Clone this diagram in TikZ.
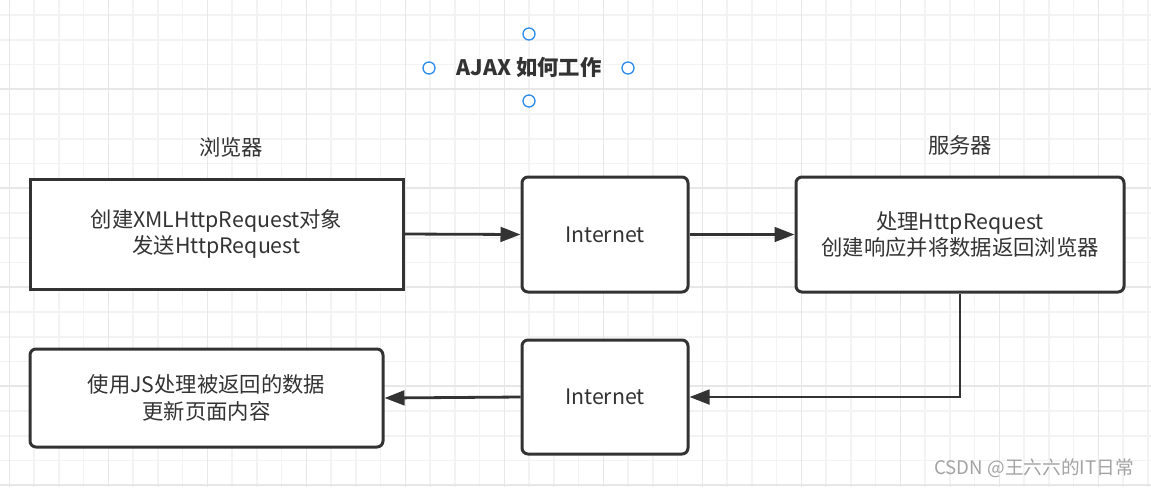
\documentclass[tikz,border=0pt]{standalone}
\usepackage{fontspec}
\setmainfont{Noto Sans CJK SC}
\usepackage{xcolor}
\usetikzlibrary{arrows.meta}

\definecolor{ink}{HTML}{333333}
\definecolor{gridminor}{HTML}{F3F3F3}
\definecolor{gridmajor}{HTML}{E7E7E7}
\definecolor{handleblue}{HTML}{2B8CEB}
\definecolor{wmark}{HTML}{A3A3A3}

\tikzset{
    box/.style={draw=ink, line width=2.25pt, fill=white, text=ink, align=center,
        font=\fontsize{16}{20}\selectfont, inner sep=0pt},
    rbox/.style={box, rounded corners=4.5pt},
    flow/.style={draw=ink, line width=2.1pt, -{Triangle[length=15pt,width=11pt]}},
    caption/.style={text=ink, font=\fontsize{16}{20}\selectfont},
    handle/.style={circle, draw=handleblue, line width=1pt, fill=white,
        minimum size=9pt, inner sep=0pt}
}

\begin{document}
\begin{tikzpicture}[x=0.75pt,y=-0.75pt]
    \useasboundingbox (0,0) rectangle (1151,487);
    \fill[white] (0,0) rectangle (1151,487);

    % Grid
    \foreach \gx in {9.3,34.05,...,1151} \draw[gridminor, line width=1.2pt] (\gx,0) -- (\gx,487);
    \foreach \gy in {15,39.75,...,487} \draw[gridminor, line width=1.2pt] (0,\gy) -- (1151,\gy);
    \foreach \gx in {9.3,108.3,...,1151} \draw[gridmajor, line width=1.2pt] (\gx,0) -- (\gx,487);
    \foreach \gy in {89.25,188.25,...,487} \draw[gridmajor, line width=1.2pt] (0,\gy) -- (1151,\gy);

    % Title
    \node[text=ink, font=\bfseries\fontsize{16}{20}\selectfont] (title) at (529,67) {AJAX 如何工作};
    \node[handle] (hn) at (529,34) {};
    \node[handle] (hw) at (429,68) {};
    \node[handle] (he) at (628,68) {};
    \node[handle] (hs) at (529,101) {};

    % Nodes
    \node[caption] (browser) at (231,147) {浏览器};
    \node[caption] (servername) at (960,145) {服务器};
    \node[box, minimum width=279.75pt, minimum height=82.5pt] (xhr) at (216.5,234)
        {创建XMLHttpRequest对象\\发送HttpRequest};
    \node[rbox, minimum width=124.5pt, minimum height=86.25pt] (netup) at (605,234.5) {Internet};
    \node[rbox, minimum width=246pt, minimum height=86.25pt] (server) at (960,234.5)
        {处理HttpRequest\\创建响应并将数据返回浏览器};
    \node[rbox, minimum width=124.5pt, minimum height=85.5pt] (netdown) at (605,397) {Internet};
    \node[rbox, minimum width=264.75pt, minimum height=73.5pt] (update) at (206.5,398)
        {使用JS处理被返回的数据\\更新页面内容};

    % Arrows
    \draw[flow] (xhr.east) -- (netup.west);
    \draw[flow] (netup.east) -- (server.west);
    \draw[flow] (server.south) |- (netdown.east);
    \draw[flow] (netdown.west) -- (update.east);

    % Watermark
    \node[text=wmark, font=\fontsize{14}{17}\selectfont] (credit) at (1034,468) {CSDN @王六六的IT日常};
\end{tikzpicture}
\end{document}
